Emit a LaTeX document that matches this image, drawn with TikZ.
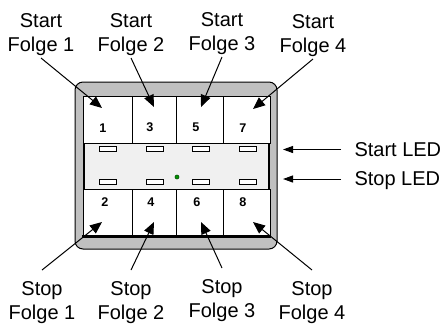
\documentclass[tikz,border=0pt]{standalone}
\usepackage{fontspec}
\setmainfont{Liberation Sans}
\usetikzlibrary{arrows.meta, positioning}
\definecolor{casegray}{RGB}{192,192,192}
\definecolor{stripgray}{RGB}{240,240,240}
\definecolor{ledgreen}{RGB}{0,150,0}

\tikzset{
  foltext/.style={align=center, font=\fontsize{10}{12}\selectfont, inner sep=1pt},
  ledtext/.style={font=\fontsize{10}{12}\selectfont, inner sep=1pt, text depth=0pt},
  keynum/.style={font=\fontsize{6.3}{7}\selectfont\bfseries, inner sep=0pt},
  keyarrow/.style={-{Triangle[length=6pt,width=5pt]}},
  ledarrow/.style={-{Triangle[length=5pt,width=3.5pt]}, shorten <=5.5pt},
  ledbox/.style={draw, fill=white, minimum width=8.5pt, minimum height=2.5pt, inner sep=0pt},
}

\begin{document}
\begin{tikzpicture}[x=0.5pt, y=-0.5pt, line width=0.5pt]
\useasboundingbox (0,0) rectangle (444,323);

% case and keys
\draw[fill=casegray, rounded corners=4pt] (75,82) rectangle (277,249);
\foreach \xa/\xb in {83/132, 132/176, 176/223, 223/270} {
  \draw[fill=white] (\xa,96) rectangle (\xb,143);
  \draw[fill=white] (\xa,189) rectangle (\xb,236);
}
\fill[stripgray] (83,143) rectangle (270,189);
\draw (83,143) -- (270,143) (83,189) -- (270,189);
\draw[line width=1pt] (84,143) -- (84,189) (269,143) -- (269,189);
\draw[line width=1.5pt] (82,236.5) -- (271,236.5);

% LEDs
\foreach \x [count=\i] in {108,155,201,248} {
  \node[ledbox] (ona\i) at (\x,149) {};
  \node[ledbox] (onb\i) at (\x,182) {};
}
\node[circle, fill=ledgreen, draw=ledgreen!50!black, line width=0.3pt,
      inner sep=0pt, minimum size=2pt] (dot) at (177,177) {};

% key numbers
\node[keynum] (n1) at (103,128) {1};
\node[keynum] (n3) at (150,127) {3};
\node[keynum] (n5) at (196,127) {5};
\node[keynum] (n7) at (243,128) {7};
\node[keynum] (n2) at (105,202) {2};
\node[keynum] (n4) at (151,202) {4};
\node[keynum] (n6) at (197,202) {6};
\node[keynum] (n8) at (243,202) {8};

\coordinate (t1) at (102,108);
\coordinate (t3) at (154,107);
\coordinate (t5) at (201,107);
\coordinate (t7) at (253,109);
\coordinate (t2) at (102,222);
\coordinate (t4) at (154,222);
\coordinate (t6) at (201,222);
\coordinate (t8) at (253,222);

% start labels
\node[foltext, anchor=south] (s1) at (41,58) {Start\\Folge 1};
\node[foltext, anchor=south] (s2) at (131,58) {Start\\Folge 2};
\node[foltext, anchor=south] (s3) at (222,57) {Start\\Folge 3};
\node[foltext, anchor=south] (s4) at (313,59) {Start\\Folge 4};
\foreach \s/\t in {s1/t1, s2/t3, s3/t5, s4/t7}
  \draw[keyarrow] (\s.south) -- (\t);

% stop labels
\node[foltext, anchor=north] (p1) at (42,279) {Stop\\Folge 1};
\node[foltext, anchor=north] (p2) at (131,279) {Stop\\Folge 2};
\node[foltext, anchor=north] (p3) at (222,277) {Stop\\Folge 3};
\node[foltext, anchor=north] (p4) at (312,279) {Stop\\Folge 4};
\foreach \p/\t in {p1/t2, p2/t4, p3/t6, p4/t8}
  \draw[keyarrow] ([yshift=4.5pt]\p.north) -- (\t);

% LED labels
\node[ledtext, anchor=west] (startled) at (352,149.5) {Start LED};
\node[ledtext, anchor=west] (stopled) at (352,179) {Stop LED};
\coordinate (ls) at (283,149.5);
\coordinate (lt) at (283,179);
\draw[ledarrow] (startled.west) -- (ls);
\draw[ledarrow] (stopled.west) -- (lt);
\end{tikzpicture}
\end{document}
